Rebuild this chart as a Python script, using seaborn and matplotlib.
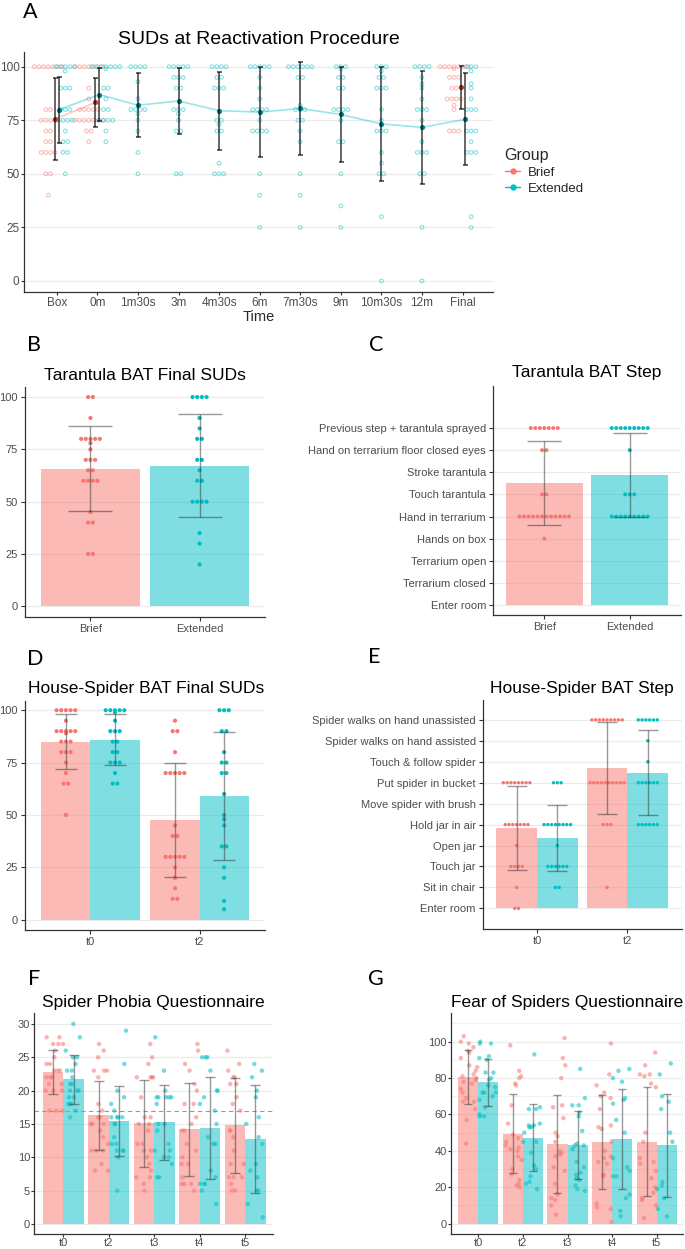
import numpy as np
import pandas as pd
import matplotlib
matplotlib.use("Agg")
import matplotlib.pyplot as plt
from matplotlib.lines import Line2D
import seaborn as sns

nan = np.nan
# ------------------------------------------------------------------ data
GROUPS = ["Brief", "Extended"]

# Panel A - SUDs at reactivation procedure
reactivation_times = ["Box", "0m", "1m30s", "3m", "4m30s", "6m", "7m30s",
                      "9m", "10m30s", "12m", "Final"]
suds_brief = {
    "Box":   [100]*7 + [80]*2 + [75]*4 + [70]*2 + [65]*2 + [60]*4 + [50]*2 + [40],
    "0m":    [100]*7 + [90, 85] + [80]*5 + [75]*7 + [70]*2 + [65],
    "Final": [100]*7 + [99] + [95]*3 + [90]*2 + [85]*4 + [82, 80] + [70]*3,
}
suds_extended = {
    "Box":    [100]*5 + [98] + [90]*3 + [80]*3 + [75]*4 + [70] + [65]*2 + [60]*2 + [50],
    "0m":     [100]*7 + [99] + [90]*2 + [85] + [80]*2 + [75]*4 + [70, 65],
    "1m30s":  [100]*4 + [93, 85] + [80]*4 + [78, 75, 70, 60, 50],
    "3m":     [100]*5 + [95]*3 + [90]*2 + [80]*3 + [78, 75] + [70]*2 + [50]*2,
    "4m30s":  [100]*4 + [95]*2 + [90]*3 + [75]*2 + [73] + [70]*2 + [55] + [50]*3,
    "6m":     [100]*5 + [95, 90, 85] + [80]*4 + [75] + [70]*4 + [50, 40, 25],
    "7m30s":  [100]*6 + [95]*2 + [82] + [80]*3 + [75]*2 + [70, 65, 50, 40, 25],
    "9m":     [100]*3 + [99] + [95]*2 + [90]*2 + [80]*4 + [75] + [65]*2 + [50, 35, 25],
    "10m30s": [100]*3 + [98] + [95]*2 + [90]*3 + [80, 75] + [70]*3 + [60, 55] + [50]*2 + [30, 0],
    "12m":    [100]*4 + [95, 92, 90, 85] + [80]*3 + [75, 65] + [60]*3 + [50]*2 + [25, 0],
    "Final":  [100]*3 + [98, 92, 90, 85] + [80]*3 + [70]*3 + [65] + [60]*3 + [30, 25],
}
suds_brief_mean = [75.5, 83.3, nan, nan, nan, nan, nan, nan, nan, nan, 90.3]
suds_brief_sd = [19.1, 11.3, nan, nan, nan, nan, nan, nan, nan, nan, 10.2]
suds_ext_mean = [79.9, 87.0, 82.0, 84.0, 79.5, 78.8, 80.5, 77.7, 73.3, 71.7, 75.4]
suds_ext_sd = [15.45, 12.2, 15.0, 15.4, 18.2, 21.15, 21.7, 22.15, 26.65, 26.35, 21.5]

# Panel B - Tarantula BAT final SUDs
tbat_suds_brief = [100]*2 + [90] + [80]*5 + [78, 75] + [70]*3 + [65]*2 + [60]*4 + [45] + [40]*2 + [25]*2
tbat_suds_extended = [100]*4 + [90, 85] + [80]*2 + [70]*2 + [65] + [60]*2 + [50]*4 + [35, 30, 20]
tbat_suds_mean = [65.8, 67.1]
tbat_suds_sd = [20.45, 24.6]

# Panel C - Tarantula BAT step
tarantula_steps = ["Enter room", "Terrarium closed", "Terrarium open", "Hands on box",
                   "Hand in terrarium", "Touch tarantula", "Stroke tarantula",
                   "Hand on terrarium floor closed eyes", "Previous step + tarantula sprayed"]
tbat_step_brief = [8]*7 + [7]*2 + [5]*2 + [4]*12 + [3]
tbat_step_extended = [8]*9 + [7] + [5]*3 + [4]*9
tbat_step_mean = [5.52, 5.89]
tbat_step_sd = [1.90, 1.89]

# Panel D - House-spider BAT final SUDs
bat_times = ["t0", "t2"]
hs_suds_brief = {
    "t0": [100]*5 + [95] + [90]*5 + [89] + [85]*3 + [80]*3 + [75, 70] + [65]*2 + [50],
    "t2": [95] + [90]*2 + [80] + [70]*5 + [45] + [40]*2 + [30]*5 + [25, 20, 15] + [10]*2,
}
hs_suds_extended = {
    "t0": [100]*5 + [99, 95] + [90]*3 + [85]*2 + [80]*2 + [75]*3 + [70] + [65]*2,
    "t2": [100]*3 + [90]*2 + [80] + [75]*2 + [70]*2 + [60, 50, 48, 45] + [35]*2 + [25, 20, 9, 5],
}
hs_suds_brief_mean = [84.95, 47.75]
hs_suds_brief_sd = [13.15, 27.25]
hs_suds_ext_mean = [85.9, 59.1]
hs_suds_ext_sd = [12.2, 30.7]

# Panel E - House-spider BAT step
house_spider_steps = ["Enter room", "Sit in chair", "Touch jar", "Open jar", "Hold jar in air",
                      "Move spider with brush", "Put spider in bucket", "Touch & follow spider",
                      "Spider walks on hand assisted", "Spider walks on hand unassisted"]
hs_step_brief = {
    "t0": [6]*8 + [4]*7 + [3] + [2]*4 + [1] + [0]*2,
    "t2": [9]*9 + [6]*10 + [4]*3 + [1],
}
hs_step_extended = {
    "t0": [6]*3 + [4]*8 + [3] + [2]*6 + [1]*2,
    "t2": [9]*6 + [8, 7] + [6]*6 + [4]*6,
}
hs_step_brief_mean = [3.84, 6.71]
hs_step_brief_sd = [2.02, 2.21]
hs_step_ext_mean = [3.36, 6.47]
hs_step_ext_sd = [1.56, 2.035]

# Panel F - Spider Phobia Questionnaire
q_times = ["t0", "t2", "t3", "t4", "t5"]
spq_brief = {
    "t0": [28, 28, 27, 27, 27, 26, 25, 24, 24, 23, 23, 23, 22, 22, 22, 21, 21, 20, 20, 20, 17, 17, 17],
    "t2": [27, 26, 25, 23, 23, 23, 22, 18, 17, 16, 16, 15, 15, 15, 14, 13, 12, 11, 11, 11, 9, 8, 8],
    "t3": [27, 25, 24, 22, 22, 22, 22, 19, 16, 16, 15, 15, 14, 12, 12, 11, 11, 10, 9, 8, 7, 7, 6, 5],
    "t4": [27, 26, 24, 23, 21, 20, 18, 18, 16, 15, 14, 14, 12, 11, 10, 9, 9, 7, 6, 6, 6, 5],
    "t5": [26, 24, 23, 22, 22, 21, 21, 19, 18, 17, 14, 14, 13, 11, 9, 9, 7, 7, 7, 6, 5, 5],
}
spq_extended = {
    "t0": [30, 28, 26, 25, 25, 24, 23, 23, 22, 21, 21, 20, 20, 20, 19, 19, 18, 18, 18, 17, 16],
    "t2": [29, 24, 20, 19, 18, 17, 16, 16, 16, 16, 15, 15, 13, 12, 12, 11, 11, 11, 10, 5],
    "t3": [28, 23, 20, 19, 19, 19, 19, 19, 18, 15, 15, 14, 12, 11, 11, 10, 10, 9, 7, 7],
    "t4": [25, 25, 25, 23, 20, 20, 19, 18, 17, 15, 13, 12, 12, 8, 7, 6, 6, 6, 5, 3],
    "t5": [24, 23, 22, 20, 19, 16, 15, 13, 12, 9, 8, 7, 5, 5, 3, 1],
}
spq_brief_mean = [22.8, 16.3, 15.1, 14.2, 14.8]
spq_brief_sd = [3.33, 5.15, 6.55, 6.95, 7.1]
spq_ext_mean = [21.7, 15.5, 15.25, 14.4, 12.7]
spq_ext_sd = [3.7, 5.25, 5.6, 7.6, 8.1]
spq_cutoff = 17

# Panel G - Fear of Spiders Questionnaire
fsq_brief = {
    "t0": [103, 100, 99, 97, 95, 94, 91, 87, 86, 84, 82, 81, 80, 79, 78, 77, 74, 72, 69, 67, 67, 63, 57, 44],
    "t2": [98, 84, 81, 80, 77, 76, 65, 55, 49, 47, 45, 43, 42, 41, 40, 37, 35, 30, 27, 24, 22, 21, 20],
    "t3": [102, 91, 87, 80, 65, 64, 58, 50, 48, 45, 40, 39, 38, 37, 31, 29, 22, 16, 14, 13, 10, 5],
    "t4": [99, 82, 76, 72, 70, 69, 63, 54, 53, 52, 45, 40, 37, 36, 34, 33, 27, 26, 11, 9, 8, 1],
    "t5": [94, 87, 82, 82, 81, 77, 75, 50, 45, 36, 34, 33, 29, 25, 20, 17, 14, 13, 10, 3],
}
fsq_extended = {
    "t0": [100, 99, 99, 92, 91, 90, 83, 83, 80, 79, 76, 75, 72, 72, 72, 70, 68, 64, 60, 59, 59],
    "t2": [93, 64, 63, 63, 55, 54, 54, 53, 53, 50, 45, 45, 39, 32, 30, 26, 23, 22, 19],
    "t3": [85, 69, 65, 65, 61, 59, 51, 44, 43, 43, 41, 34, 31, 28, 27, 25, 24, 21, 19, 18],
    "t4": [85, 84, 80, 78, 69, 68, 66, 57, 50, 36, 31, 29, 26, 26, 16, 14, 7, 4],
    "t5": [88, 82, 70, 67, 63, 50, 45, 23, 21, 19, 14, 8, 4],
}
fsq_brief_mean = [80.8, 49.5, 43.9, 45.0, 45.0]
fsq_brief_sd = [14.85, 21.5, 27.05, 25.9, 29.9]
fsq_ext_mean = [77.7, 47.2, 43.4, 46.6, 43.0]
fsq_ext_sd = [13.05, 18.4, 18.75, 27.5, 28.2]

# ------------------------------------------------------------------ style
sns.set_theme(style="white")
plt.rcParams["font.family"] = ["Liberation Sans", "DejaVu Sans"]
RED, CYAN = "#F8766D", "#00BFC4"
PAL = {"Brief": RED, "Extended": CYAN}
TICK_C, AX_C, GRID_C = "#4D4D4D", "#333333", "#EBEBEB"
W, H = 685, 1249

fig = plt.figure(figsize=(W / 100, H / 100), dpi=100)


def px_rect(l, t, r, b):
    return [l / W, 1 - b / H, (r - l) / W, (b - t) / H]


def style(ax, size=8, length=3, pad=2):
    sns.despine(ax=ax)
    for s in ("left", "bottom"):
        ax.spines[s].set_color(AX_C)
        ax.spines[s].set_linewidth(0.9)
    ax.tick_params(axis="both", which="major", direction="out", length=length, width=0.8,
                   color=AX_C, labelcolor=TICK_C, labelsize=size, pad=pad,
                   left=True, bottom=True)
    ax.xaxis.grid(False)
    ax.yaxis.grid(True, color=GRID_C, lw=0.9)
    ax.set_axisbelow(True)
    ax.set_xlabel("")
    ax.set_ylabel("")


def stack_positions(values, center, step):
    vals = np.asarray(values, dtype=float)
    xs = np.zeros(len(vals))
    for v in np.unique(vals):
        idx = np.flatnonzero(vals == v)
        xs[idx] = center + (np.arange(len(idx)) - (len(idx) - 1) / 2) * step
    return xs


def dot_frame(entries, step):
    frames = []
    for g, vals, c in entries:
        frames.append(pd.DataFrame({"Group": g, "value": vals,
                                    "x": stack_positions(vals, c, step)}))
    return pd.concat(frames, ignore_index=True)


def bar_errors(ax, means, sds, cap_units, ux, color="#333333", alpha=0.5, lw=1.0):
    conts = list(ax.containers)
    for cont, m, s in zip(conts, means, sds):
        xs = [b.get_x() + b.get_width() / 2 for b in cont]
        ax.errorbar(xs, m, yerr=s, fmt="none", ecolor=color, alpha=alpha,
                    elinewidth=lw, capsize=cap_units / 2 * ux * 0.72, capthick=lw, zorder=4)


def title(x, base, text, size=12.5):
    fig.text(x / W, 1 - base / H, text, ha="center", va="baseline", fontsize=size, color="black")


def letter(x, base, text):
    fig.text(x / W, 1 - base / H, text, ha="left", va="baseline", fontsize=15.5,
             family=["Lato", "DejaVu Sans"], color="black")


def bars(ax, df, x):
    sns.barplot(data=df, x=x, y="mean", hue="Group", hue_order=GROUPS, palette=PAL,
                saturation=1, alpha=0.5, width=0.9, errorbar=None, linewidth=0,
                legend=False, ax=ax)


# ------------------------------------------------------------------ Panel A
A = (24.3, 51.7, 493, 291.7)
axA = fig.add_axes(px_rect(*A))
A_XLIM, A_YLIM = (-0.8, 10.75), (-5, 107)
uxA = (A[2] - A[0]) / (A_XLIM[1] - A_XLIM[0])
both = ~np.isnan(np.array(suds_brief_mean))
entries = []
for i, t in enumerate(reactivation_times):
    if t in suds_brief:
        entries.append(("Brief", suds_brief[t], i - 0.21))
    entries.append(("Extended", suds_extended[t], i + (0.21 if both[i] else 0.0)))
dfA = dot_frame(entries, 4.67 / uxA)
sns.scatterplot(data=dfA, x="x", y="value", hue="Group", hue_order=GROUPS, palette=PAL,
                s=7, legend=False, ax=axA, zorder=2)
pts = axA.collections[-1]
fc = pts.get_facecolors()
pts.set_facecolors("none")
pts.set_edgecolors(fc)
pts.set_linewidths(0.75)
pts.set_alpha(0.5)

idx = np.arange(len(reactivation_times))
xb = idx - 0.05
xe = idx + np.where(both, 0.05, 0.0)
axA.plot(xb, suds_brief_mean, color=RED, alpha=0.4, lw=1.2, zorder=3)
axA.plot(xe, suds_ext_mean, color=CYAN, alpha=0.4, lw=1.2, zorder=3)
axA.scatter(xb, suds_brief_mean, s=14, color="#C0392B", zorder=4, linewidths=0)
axA.scatter(xe, suds_ext_mean, s=14, color="#00868B", zorder=4, linewidths=0)
axA.errorbar(xb, suds_brief_mean, yerr=suds_brief_sd, fmt="none", ecolor="black", alpha=0.7,
             elinewidth=1.2, capsize=1.8, capthick=1.2, zorder=5)
axA.errorbar(xe, suds_ext_mean, yerr=suds_ext_sd, fmt="none", ecolor="black", alpha=0.7,
             elinewidth=1.2, capsize=1.8, capthick=1.2, zorder=5)
style(axA, size=8.5, length=2.5, pad=1)
axA.set_xticks(idx, reactivation_times)
axA.set_yticks([0, 25, 50, 75, 100])
axA.set_xlim(*A_XLIM)
axA.set_ylim(*A_YLIM)
fig.text(258.7 / W, 1 - 317 / H, "Time", ha="center", va="center", fontsize=10.5)
title(258.7, 44.5, "SUDs at Reactivation Procedure", size=14)
letter(23, 18.5, "A")
handles = [Line2D([0], [0], color=PAL[g], marker="o", markersize=3.5, lw=1.0) for g in GROUPS]
leg = axA.legend(handles, GROUPS, title="Group", loc="upper left",
                 bbox_to_anchor=(498 / W, 1 - 141 / H), bbox_transform=fig.transFigure,
                 frameon=False, fontsize=9.5, title_fontsize=11.5, handlelength=1.2,
                 handletextpad=0.6, labelspacing=0.3, borderpad=0, alignment="left")

# ------------------------------------------------------------------ Panel B
B = (25, 387, 265, 617)
axB = fig.add_axes(px_rect(*B))
B_XLIM, B_YLIM = (-0.6, 1.6), (-5.1, 104.8)
uxB = (B[2] - B[0]) / (B_XLIM[1] - B_XLIM[0])
bars(axB, pd.DataFrame({"Group": GROUPS, "mean": tbat_suds_mean}), "Group")
bar_errors(axB, [[m] for m in tbat_suds_mean], [[s] for s in tbat_suds_sd], 0.41, uxB)
dfB = dot_frame([("Brief", tbat_suds_brief, 0), ("Extended", tbat_suds_extended, 1)], 4.67 / uxB)
sns.scatterplot(data=dfB, x="x", y="value", hue="Group", hue_order=GROUPS, palette=PAL,
                s=9, linewidth=0, legend=False, ax=axB, zorder=3)
style(axB)
axB.set_xticks([0, 1], GROUPS)
axB.set_yticks([0, 25, 50, 75, 100])
axB.set_xlim(*B_XLIM)
axB.set_ylim(*B_YLIM)
title(145, 380, "Tarantula BAT Final SUDs")
letter(27, 351, "B")

# ------------------------------------------------------------------ Panel C
C = (493, 386, 681, 615)
axC = fig.add_axes(px_rect(*C))
C_XLIM, C_YLIM = (-0.6, 1.6), (-0.45, 9.9)
uxC = (C[2] - C[0]) / (C_XLIM[1] - C_XLIM[0])
bars(axC, pd.DataFrame({"Group": GROUPS, "mean": tbat_step_mean}), "Group")
bar_errors(axC, [[m] for m in tbat_step_mean], [[s] for s in tbat_step_sd], 0.39, uxC)
dfC = dot_frame([("Brief", tbat_step_brief, 0), ("Extended", tbat_step_extended, 1)], 4.5 / uxC)
sns.scatterplot(data=dfC, x="x", y="value", hue="Group", hue_order=GROUPS, palette=PAL,
                s=8, linewidth=0, legend=False, ax=axC, zorder=3)
style(axC)
axC.set_xticks([0, 1], GROUPS)
axC.set_yticks(range(len(tarantula_steps)), tarantula_steps)
axC.set_xlim(*C_XLIM)
axC.set_ylim(*C_YLIM)
title(587, 377, "Tarantula BAT Step")
letter(369, 351, "C")

# ------------------------------------------------------------------ Panel D
D = (25, 701, 265, 930)
axD = fig.add_axes(px_rect(*D))
D_XLIM, D_YLIM = (-0.6, 1.6), (-4.9, 104.4)
uxD = (D[2] - D[0]) / (D_XLIM[1] - D_XLIM[0])
bars(axD, pd.DataFrame({"Time": bat_times * 2,
                        "Group": ["Brief"] * len(bat_times) + ["Extended"] * len(bat_times),
                        "mean": hs_suds_brief_mean + hs_suds_ext_mean}), "Time")
bar_errors(axD, [hs_suds_brief_mean, hs_suds_ext_mean], [hs_suds_brief_sd, hs_suds_ext_sd], 0.21, uxD)
entries = []
for i, t in enumerate(bat_times):
    entries.append(("Brief", hs_suds_brief[t], i - 0.225))
    entries.append(("Extended", hs_suds_extended[t], i + 0.225))
dfD = dot_frame(entries, 4.67 / uxD)
sns.scatterplot(data=dfD, x="x", y="value", hue="Group", hue_order=GROUPS, palette=PAL,
                s=9, linewidth=0, legend=False, ax=axD, zorder=3)
style(axD)
axD.set_xticks([0, 1], bat_times)
axD.set_yticks([0, 25, 50, 75, 100])
axD.set_xlim(*D_XLIM)
axD.set_ylim(*D_YLIM)
title(146, 692.7, "House-Spider BAT Final SUDs")
letter(27, 665, "D")

# ------------------------------------------------------------------ Panel E
E = (482.7, 700, 681.7, 929.3)
axE = fig.add_axes(px_rect(*E))
E_XLIM, E_YLIM = (-0.6, 1.6), (-1.0, 9.95)
uxE = (E[2] - E[0]) / (E_XLIM[1] - E_XLIM[0])
bars(axE, pd.DataFrame({"Time": bat_times * 2,
                        "Group": ["Brief"] * len(bat_times) + ["Extended"] * len(bat_times),
                        "mean": hs_step_brief_mean + hs_step_ext_mean}), "Time")
bar_errors(axE, [hs_step_brief_mean, hs_step_ext_mean], [hs_step_brief_sd, hs_step_ext_sd], 0.22, uxE)
entries = []
for i, t in enumerate(bat_times):
    entries.append(("Brief", hs_step_brief[t], i - 0.225))
    entries.append(("Extended", hs_step_extended[t], i + 0.225))
dfE = dot_frame(entries, 3.8 / uxE)
sns.scatterplot(data=dfE, x="x", y="value", hue="Group", hue_order=GROUPS, palette=PAL,
                s=6, linewidth=0, legend=False, ax=axE, zorder=3)
style(axE)
axE.set_xticks([0, 1], bat_times)
axE.set_yticks(range(len(house_spider_steps)), house_spider_steps)
axE.set_xlim(*E_XLIM)
axE.set_ylim(*E_YLIM)
title(582, 692.7, "House-Spider BAT Step")
letter(368, 663, "E")


# ------------------------------------------------------------------ Panels F & G
def questionnaire(rect, xlim, ylim, raw_b, raw_e, mb, sb, me, se, seed):
    ax = fig.add_axes(px_rect(*rect))
    ux = (rect[2] - rect[0]) / (xlim[1] - xlim[0])
    bars(ax, pd.DataFrame({"Time": q_times * 2,
                           "Group": ["Brief"] * len(q_times) + ["Extended"] * len(q_times),
                           "mean": mb + me}), "Time")
    conts = list(ax.containers)
    rows = []
    for g, raw in (("Brief", raw_b), ("Extended", raw_e)):
        for t in q_times:
            rows += [{"Time": t, "Group": g, "score": v} for v in raw[t]]
    dfr = pd.DataFrame(rows)
    np.random.seed(seed)
    sns.stripplot(data=dfr, x="Time", y="score", hue="Group", hue_order=GROUPS, order=q_times,
                  palette=PAL, dodge=True, jitter=0.4, size=3.2, alpha=0.55, linewidth=0,
                  legend=False, ax=ax, zorder=3)
    for cont, m, s in zip(conts, (mb, me), (sb, se)):
        xs = [b.get_x() + b.get_width() / 2 for b in cont]
        ax.errorbar(xs, m, yerr=s, fmt="none", ecolor="#333333", alpha=0.5,
                    elinewidth=1.0, capsize=0.1 * ux * 0.72, capthick=1.0, zorder=4)
    style(ax, length=2, pad=1)
    ax.set_xticks(range(len(q_times)), q_times)
    ax.set_xlim(*xlim)
    ax.set_ylim(*ylim)
    return ax


F = (34.3, 1013.3, 273.3, 1233.5)
axF = questionnaire(F, (-0.64, 4.62), (-1.44, 31.6), spq_brief, spq_extended,
                    spq_brief_mean, spq_brief_sd, spq_ext_mean, spq_ext_sd, 7)
axF.set_yticks([0, 5, 10, 15, 20, 25, 30])
axF.axhline(spq_cutoff, color="#9A9A9A", ls=(0, (4, 3)), lw=0.8, zorder=2)
title(153.8, 1007.3, "Spider Phobia Questionnaire")
letter(28, 985, "F")

G = (450.7, 1013.3, 683, 1233.5)
axG = questionnaire(G, (-0.62, 4.59), (-5.4, 115.6), fsq_brief, fsq_extended,
                    fsq_brief_mean, fsq_brief_sd, fsq_ext_mean, fsq_ext_sd, 11)
axG.set_yticks([0, 20, 40, 60, 80, 100])
axG.set_yticks(np.arange(10, 111, 20), minor=True)
axG.yaxis.grid(True, which="minor", color="#F2F2F2", lw=0.7)
axG.tick_params(axis="y", which="minor", length=0)
title(566.8, 1007.3, "Fear of Spiders Questionnaire")
letter(368, 985, "G")

fig.savefig("out.png", dpi=100)
